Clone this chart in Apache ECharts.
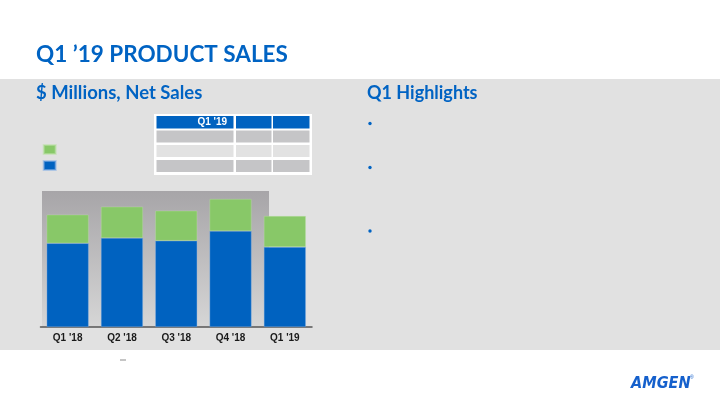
<!DOCTYPE html>
<html>
<head>
<meta charset="utf-8">
<script src="https://cdn.jsdelivr.net/npm/echarts@6/dist/echarts.min.js"></script>
<style>
html,body{margin:0;padding:0;background:#fff;}
#c{width:720px;height:405px;}
</style>
</head>
<body>
<div id="c"></div>
<script>
const categories = ["Q1 '18", "Q2 '18", "Q3 '18", "Q4 '18", "Q1 '19"];
const usSales = [3935, 4185, 4055, 4510, 3760];
const rowSales = [1345, 1470, 1410, 1505, 1455];
const tableHeader = "Q1 '19";

const BLUE = '#0062c0';
const GREEN = '#88c868';
const TITLE_BLUE = '#0063c3';
const FONT = 'Lato, "Open Sans", sans-serif';

const chart = echarts.init(document.getElementById('c'), null, {renderer: 'canvas'});

const tableRects = [];
tableRects.push({type:'rect', z:1, shape:{x:154, y:114, width:158, height:61}, style:{fill:'#ffffff'}});
const cols = [[156.5, 77], [236, 35.5], [273, 36.5]];
const rows = [[116, 12.5, BLUE], [130.5, 12, '#c5c5c7'], [145, 12, '#e2e2e2'], [160, 12, '#c5c5c7']];
rows.forEach(r => cols.forEach(c => {
  tableRects.push({type:'rect', z:2, shape:{x:c[0], y:r[0], width:c[1], height:r[1]}, style:{fill:r[2]}});
}));

chart.setOption({
  animation: false,
  grid: {left: 40.5, right: 408, top: 190.8, bottom: 78, containLabel: false},
  legend: {
    orient: 'vertical', left: 42.7, top: 144, itemWidth: 12, itemHeight: 9, itemGap: 5, padding: 0,
    icon: 'rect', formatter: () => '', textStyle:{fontSize:1},
    data: ['ROW', 'U.S.'], selectedMode: false
  },
  xAxis: {
    type: 'category', data: categories,
    axisLine: {lineStyle: {color: '#555555', width: 1.5}},
    axisTick: {show: false},
    axisLabel: {color: '#1a1a1a', fontWeight: 'bold', fontSize: 10, fontFamily: 'Liberation Sans, Arial, sans-serif', margin: 6}
  },
  yAxis: {type: 'value', min: 0, max: 6400, show: false, splitLine: {show: false}},
  series: [
    {name: 'U.S.', type: 'bar', stack: 's', data: usSales, barWidth: 42, z: 3,
     itemStyle: {color: BLUE, borderColor: 'rgba(140,180,230,0.6)', borderWidth: 0.6}},
    {name: 'ROW', type: 'bar', stack: 's', data: rowSales, barWidth: 42, z: 3,
     itemStyle: {color: GREEN, borderColor: 'rgba(190,225,170,0.6)', borderWidth: 0.6}}
  ],
  graphic: [
    {type:'rect', z:-10, silent:true, shape:{x:0, y:79, width:720, height:271}, style:{fill:'#e1e1e1'}},
    {type:'rect', z:-5, silent:true, shape:{x:42, y:191, width:227, height:136},
     style:{fill: new echarts.graphic.LinearGradient(0,0,0,1,[{offset:0,color:'#a7a5a8'},{offset:1,color:'#d6d6d6'}])}},
    {type:'text', z:5, left:36, top:43, style:{text:"Q1 \u201919 PRODUCT SALES", font:'bold 22.5px '+FONT, fill:TITLE_BLUE}},
    {type:'text', z:5, left:36, top:84, style:{text:"$ Millions, Net Sales", font:'bold 18.5px '+FONT, fill:TITLE_BLUE}},
    {type:'text', z:5, left:367, top:84, style:{text:"Q1 Highlights", font:'bold 18px '+FONT, fill:TITLE_BLUE}},
    {type:'circle', z:5, shape:{cx:370, cy:123.5, r:1.7}, style:{fill:TITLE_BLUE}},
    {type:'circle', z:5, shape:{cx:370, cy:167.5, r:1.7}, style:{fill:TITLE_BLUE}},
    {type:'circle', z:5, shape:{cx:370, cy:231, r:1.7}, style:{fill:TITLE_BLUE}},
    ...tableRects,
    {type:'text', z:6, right:720-227, top:117, style:{text:tableHeader, font:'bold 10px "Liberation Sans", Arial, sans-serif', fill:'#ffffff', textAlign:'right'}},
    {type:'rect', z:5, shape:{x:120, y:359.5, width:6, height:1}, style:{fill:'#8a8a8a'}},
    {type:'text', z:5, x:631, y:375, scaleY:1.15, style:{text:'AMGEN', font:'italic 900 14.5px "DejaVu Sans", sans-serif', fill:'#1560cc'}},
    {type:'text', z:5, x:690, y:375, style:{text:'\u00ae', font:'5px sans-serif', fill:'#1560cc'}}
  ]
});
</script>
</body>
</html>
